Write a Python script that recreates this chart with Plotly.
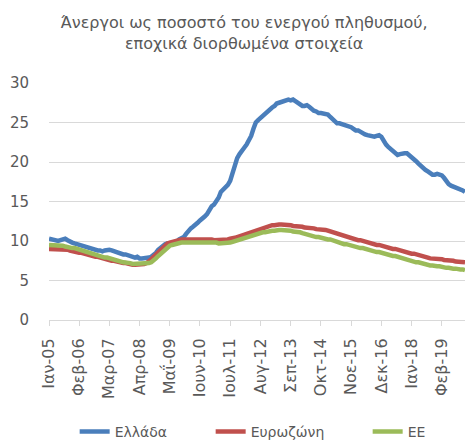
import pandas as pd
import plotly.graph_objects as go

greece = [
    10.3,10.2,10.2,10.1,10.0,10.1,10.2,10.3,10.1,9.9,9.8,9.7,
    9.6,9.5,9.4,9.3,9.2,9.1,9.0,9.0,8.9,8.8,8.8,8.7,
    8.8,8.9,8.9,8.8,8.7,8.5,8.4,8.4,8.3,8.3,8.2,8.1,
    8.0,7.9,8.0,7.8,7.8,7.8,7.8,7.9,8.0,8.2,8.5,8.9,
    9.2,9.4,9.6,9.7,9.6,9.7,9.8,9.9,10.2,10.4,10.5,10.9,
    11.3,11.6,11.8,12.0,12.3,12.6,12.8,13.1,13.4,13.9,14.4,14.6,
    15.0,15.5,16.2,16.5,16.8,17.1,17.6,18.6,19.7,20.5,21.0,21.5,
    21.8,22.2,22.7,23.3,24.2,25.0,25.3,25.6,25.9,26.2,26.4,26.7,
    26.9,27.1,27.4,27.5,27.6,27.8,27.9,27.9,27.8,27.9,27.7,27.5,
    27.3,27.1,27.1,27.2,27.0,26.7,26.5,26.4,26.2,26.2,26.1,26.0,
    26.0,25.7,25.5,25.2,24.9,24.9,24.8,24.7,24.6,24.6,24.4,24.2,
    24.0,24.0,23.8,23.6,23.5,23.4,23.3,23.3,23.2,23.3,23.4,23.2,
    22.6,22.2,21.9,21.6,21.4,21.1,20.9,21.0,21.1,21.1,21.1,20.8,
    20.5,20.3,20.1,19.8,19.5,19.2,19.0,18.8,18.6,18.4,18.4,18.5,
    18.4,18.3,18.0,17.5,17.2,17.0,16.9,16.8,16.7,16.5,16.4,16.2,
]
eurozone = [
    9.0,9.0,9.0,9.0,9.0,9.0,9.0,8.9,8.9,8.8,8.7,8.7,
    8.6,8.5,8.5,8.4,8.3,8.2,8.2,8.1,8.0,8.0,7.9,7.8,
    7.8,7.7,7.6,7.5,7.5,7.4,7.3,7.3,7.2,7.2,7.1,7.1,
    7.0,7.0,7.0,7.0,7.0,7.1,7.2,7.4,7.7,8.0,8.3,8.6,
    9.0,9.3,9.5,9.7,9.8,9.9,10.0,10.1,10.2,10.2,10.2,10.2,
    10.3,10.3,10.3,10.3,10.3,10.2,10.2,10.2,10.2,10.2,10.2,10.1,
    10.1,10.1,10.1,10.1,10.1,10.2,10.3,10.3,10.4,10.5,10.6,10.7,
    10.9,11.0,11.1,11.2,11.3,11.4,11.5,11.6,11.6,11.7,11.8,11.9,
    12.0,12.0,12.1,12.1,12.1,12.1,12.0,12.0,12.0,11.9,11.9,11.9,
    11.8,11.8,11.7,11.7,11.6,11.6,11.6,11.5,11.5,11.5,11.5,11.4,
    11.3,11.2,11.1,11.0,10.9,10.8,10.7,10.6,10.5,10.4,10.3,10.3,
    10.2,10.1,10.1,10.0,9.9,9.8,9.7,9.7,9.6,9.5,9.5,9.4,
    9.3,9.2,9.2,9.1,9.0,9.0,8.9,8.8,8.7,8.6,8.6,8.5,
    8.4,8.4,8.3,8.2,8.1,8.0,7.9,7.9,7.8,7.8,7.8,7.7,
    7.7,7.7,7.6,7.6,7.5,7.5,7.5,7.4,7.4,7.4,7.3,7.3,
]
eu = [
    9.5,9.5,9.5,9.4,9.4,9.4,9.4,9.3,9.2,9.2,9.1,9.1,
    9.0,8.9,8.8,8.7,8.6,8.5,8.5,8.4,8.3,8.2,8.1,8.0,
    7.9,7.9,7.8,7.7,7.6,7.5,7.5,7.4,7.3,7.3,7.2,7.2,
    7.1,7.1,7.1,7.1,7.1,7.1,7.1,7.2,7.3,7.5,7.8,8.1,
    8.4,8.7,9.0,9.2,9.4,9.5,9.6,9.7,9.7,9.8,9.8,9.8,
    9.9,9.9,9.9,9.9,9.8,9.8,9.8,9.8,9.8,9.8,9.8,9.8,
    9.8,9.7,9.7,9.7,9.7,9.8,9.8,9.9,10.0,10.1,10.2,10.3,
    10.4,10.5,10.6,10.6,10.7,10.8,10.9,11.0,11.1,11.1,11.2,11.2,
    11.3,11.3,11.4,11.4,11.4,11.4,11.4,11.3,11.3,11.2,11.2,11.1,
    11.1,11.0,10.9,10.9,10.8,10.7,10.6,10.5,10.5,10.4,10.4,10.3,
    10.2,10.2,10.1,10.0,9.9,9.8,9.7,9.6,9.6,9.5,9.4,9.3,
    9.3,9.2,9.1,9.1,9.0,8.9,8.9,8.8,8.7,8.6,8.6,8.5,
    8.4,8.4,8.3,8.2,8.1,8.1,8.0,7.9,7.8,7.7,7.6,7.6,
    7.5,7.4,7.3,7.3,7.2,7.1,7.0,7.0,6.9,6.9,6.8,6.8,
    6.8,6.7,6.7,6.6,6.6,6.5,6.5,6.5,6.4,6.4,6.4,6.3,
]

months = pd.date_range("2005-01-01", periods=len(greece), freq="MS")
tick_dates = pd.date_range("2005-01-01", periods=14, freq="13MS")
tick_labels = ["Ιαν-05", "Φεβ-06", "Μαρ-07", "Απρ-08", "Μαΐ-09", "Ιουν-10", "Ιουλ-11",
               "Αυγ-12", "Σεπ-13", "Οκτ-14", "Νοε-15", "Δεκ-16", "Ιαν-18", "Φεβ-19"]
y_ticks = [0, 5, 10, 15, 20, 25, 30]

series = [("Ελλάδα", greece, "#4A7EBB", 91), ("Ευρωζώνη", eurozone, "#C0504D", 112),
          ("ΕΕ", eu, "#9BBB59", 30)]

font = "DejaVu Sans, sans-serif"
grey = "#595959"

fig = go.Figure()
for name, vals, col, lw in series:
    fig.add_trace(go.Scatter(x=months, y=vals, mode="lines", name=name,
                             line=dict(color=col, width=4.5), legendwidth=lw))

fig.update_layout(
    width=465, height=448,
    margin=dict(l=49, r=0, t=83, b=121),
    paper_bgcolor="white", plot_bgcolor="white",
    font=dict(family=font, color=grey, size=15),
    title=dict(text="Άνεργοι ως ποσοστό του ενεργού πληθυσμού,<br>εποχικά διορθωμένα στοιχεία",
               x=0.525, xanchor="center", y=1 - 28/448, yanchor="middle",
               font=dict(size=16, color=grey, family=font)),
    showlegend=True,
    legend=dict(orientation="h", x=0.504, xanchor="center",
                y=-(443-327)/244, yanchor="middle", font=dict(size=14, color=grey),
                tracegroupgap=0),
)
fig.update_xaxes(
    range=[months[0], months[-1]],
    tickmode="array", tickvals=tick_dates, ticktext=tick_labels,
    tickangle=-90, ticks="outside", ticklen=5, tickcolor="#D9D9D9",
    showgrid=False, showline=True, linecolor="#D9D9D9", linewidth=1,
    tickfont=dict(size=16, color=grey), zeroline=False, automargin=False,
    ticklabelstandoff=6,
)
fig.update_yaxes(
    range=[0, 30], tickmode="array", tickvals=y_ticks,
    showgrid=True, gridcolor="#D9D9D9", gridwidth=1, zeroline=False,
    tickfont=dict(size=15, color=grey), ticklabelstandoff=19, automargin=False,
)

fig.write_html("out.html", config={"displayModeBar": False},
               post_script="document.body.style.margin='0';")
